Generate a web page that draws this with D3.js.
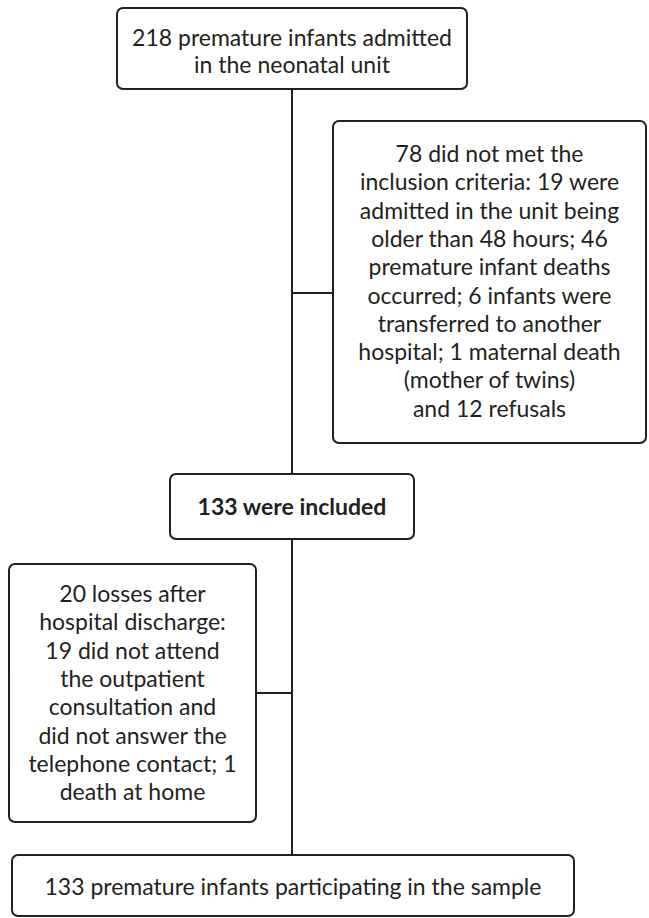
<!DOCTYPE html>
<html>
<head>
<meta charset="utf-8">
<script src="https://cdn.jsdelivr.net/npm/d3@7"></script>
<style>
  body { margin: 0; background: #fff; }
  text { font-family: Lato, "Noto Sans", sans-serif; fill: #231f20; }
</style>
</head>
<body>
<div class="svg"></div>
<script>
'use strict';

var topLines = ['218 premature infants admitted', 'in the neonatal unit'];
var excludedLines = ['78 did not met the', 'inclusion criteria: 19 were', 'admitted in the unit being',
    'older than 48 hours; 46', 'premature infant deaths', 'occurred; 6 infants were',
    'transferred to another', 'hospital; 1 maternal death', '(mother of twins)', 'and 12 refusals'];
var includedLines = ['133 were included'];
var lossLines = ['20 losses after', 'hospital discharge:', '19 did not attend', 'the outpatient',
    'consultation and', 'did not answer the', 'telephone contact; 1', 'death at home'];
var sampleLines = ['133 premature infants participating in the sample'];

var width = 649, height = 918;
var lineGap = 28.3;
var mainX = 292;

// box layout: x0, x1, y0, y1, first baseline
var boxes = [
    { lines: topLines, x0: 117, x1: 467, y0: 8, y1: 89, base: 46, gap: 27, bold: false },
    { lines: excludedLines, x0: 333, x1: 646, y0: 121, y1: 443, base: 162, gap: lineGap, bold: false },
    { lines: includedLines, x0: 170, x1: 414, y0: 474, y1: 539, base: 515, gap: lineGap, bold: true },
    { lines: lossLines, x0: 9, x1: 256, y0: 564, y1: 822, base: 602, gap: lineGap, bold: false },
    { lines: sampleLines, x0: 12, x1: 574, y0: 855, y1: 916, base: 895, gap: lineGap, bold: false }
];

var svg = d3.select('div.svg').append('svg')
    .attr('width', width)
    .attr('height', height);

var links = [
    [mainX, 89, mainX, 474],
    [mainX, 539, mainX, 855],
    [mainX, 293, 333, 293],
    [256, 693, mainX, 693]
];

svg.selectAll('line.link')
    .data(links)
    .enter().append('line')
    .attr('class', 'link')
    .attr('x1', function (d) { return d[0]; })
    .attr('y1', function (d) { return d[1]; })
    .attr('x2', function (d) { return d[2]; })
    .attr('y2', function (d) { return d[3]; })
    .attr('stroke', '#231f20')
    .attr('stroke-width', 2);

var box = svg.selectAll('g.box')
    .data(boxes)
    .enter().append('g')
    .attr('class', 'box');

box.append('rect')
    .attr('x', function (d) { return d.x0; })
    .attr('y', function (d) { return d.y0; })
    .attr('width', function (d) { return d.x1 - d.x0; })
    .attr('height', function (d) { return d.y1 - d.y0; })
    .attr('rx', 6)
    .attr('fill', '#fff')
    .attr('stroke', '#231f20')
    .attr('stroke-width', 2);

box.each(function (d) {
    d3.select(this).selectAll('text')
        .data(d.lines)
        .enter().append('text')
        .attr('x', (d.x0 + d.x1) / 2)
        .attr('y', function (t, i) { return d.base + i * d.gap; })
        .attr('text-anchor', 'middle')
        .attr('font-size', 23)
        .attr('font-weight', d.bold ? 'bold' : 'normal')
        .text(function (t) { return t; });
});
</script>
</body>
</html>
